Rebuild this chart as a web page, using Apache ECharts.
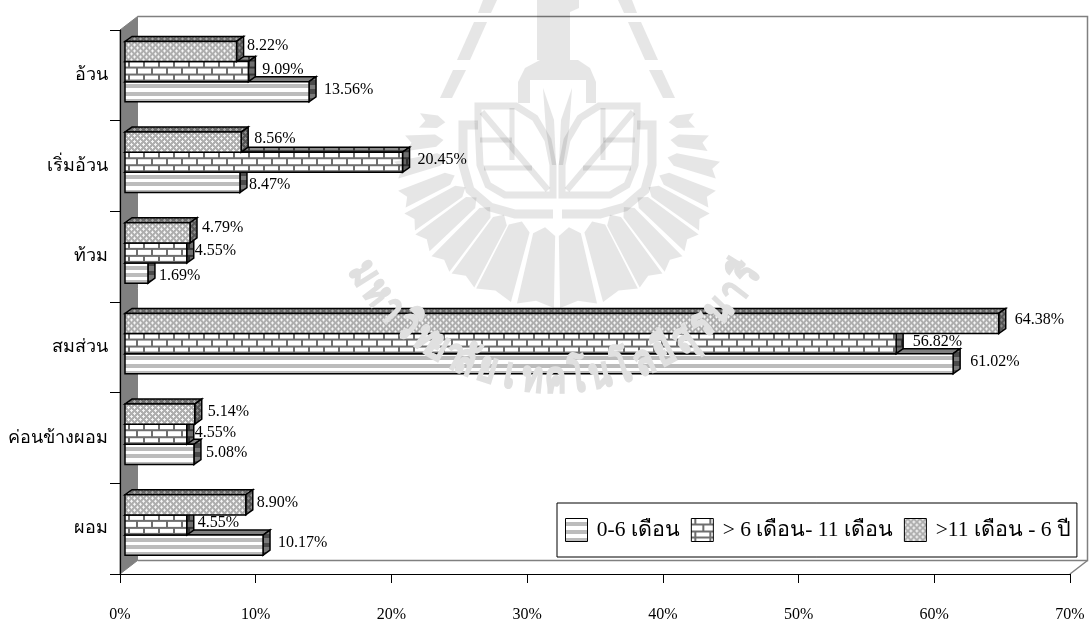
<!DOCTYPE html>
<html>
<head>
<meta charset="utf-8">
<style>html,body{margin:0;padding:0;background:#fff}#chart{width:1089px;height:622px}</style>
<script src="https://cdn.jsdelivr.net/npm/echarts@6/dist/echarts.min.js"></script>
</head>
<body>
<div id="chart"></div>
<script>
// Nutrition status by child age group
const categories = ['ผอม', 'ค่อนข้างผอม', 'สมส่วน', 'ท้วม', 'เริ่มอ้วน', 'อ้วน'];
const seriesNames = ['0-6 เดือน', '> 6 เดือน- 11 เดือน', '>11 เดือน - 6 ปี'];
const infants = [10.17, 5.08, 61.02, 1.69, 8.47, 13.56];
const olderInfants = [4.55, 4.55, 56.82, 4.55, 20.45, 9.09];
const children = [8.90, 5.14, 64.38, 4.79, 8.56, 8.22];

// Hand placement of the value labels: x gap past the bar, y shift from its centre
const labelGapX = [[8, 5, 10, 4, 2, 8], [4, 1, 9.5, 1, 8, 7], [4, 6, 9, 5, 6, 3.5]];
const labelGapY = [[-2, -1.5, -2, 3, 2.5, -2], [-2, -2, -2, -2, -3, -2], [-2, -2, -3.5, -5, -3, -5.5]];

const SERIF = '"Liberation Serif","Noto Sans","DejaVu Sans",serif';
const DEPTH_X = 17.5, DEPTH_Y = 13.5;   // full depth of the plot box
const BAR_DX = 7, BAR_DY = 5;           // depth of a bar
const BAR_INSET_X = 5, BAR_INSET_Y = 3.7;
const BAR_SHARE = 0.2222;

function tile(w, h, paint) {
  const c = document.createElement('canvas');
  c.width = w; c.height = h;
  paint(c.getContext('2d'));
  return c;
}
function brickPaint(base, line) {
  return g => {
    g.fillStyle = base; g.fillRect(0, 0, 15, 20);
    g.fillStyle = line;
    [5, 12, 18].forEach(y => g.fillRect(0, y, 15, 2));
    g.fillRect(3, 0, 2, 5); g.fillRect(11, 7, 2, 5); g.fillRect(3, 14, 2, 4);
  };
}
function crossPaint(base, dot) {
  return g => {
    g.fillStyle = base; g.fillRect(0, 0, 6, 6);
    g.fillStyle = dot;
    [[0, 0], [3, 3], [1, 0], [0, 1], [3, 2], [2, 3], [4, 3], [3, 4], [5, 0], [0, 5]].forEach(p => g.fillRect(p[0], p[1], 1, 1));
  };
}
const brickFront = tile(15, 20, brickPaint('#ffffff', '#6e6e6e'));
const brickTop = tile(15, 20, brickPaint('#8c8c8c', '#3c3c3c'));
const brickSide = tile(15, 20, brickPaint('#6e6e6e', '#333333'));
const crossFront = tile(6, 6, crossPaint('#aeaeae', '#f6f6f6'));
const crossTop = tile(6, 6, crossPaint('#6a6a6a', '#a8a8a8'));
const crossSide = tile(6, 6, crossPaint('#555555', '#8c8c8c'));

const stripes = (a, b) => new echarts.graphic.LinearGradient(0, 0, 0, 1, [
  { offset: 0, color: a }, { offset: 0.16, color: a }, { offset: 0.16, color: b }, { offset: 0.34, color: b },
  { offset: 0.34, color: a }, { offset: 0.5, color: a }, { offset: 0.5, color: b }, { offset: 0.68, color: b },
  { offset: 0.68, color: a }, { offset: 0.84, color: a }, { offset: 0.84, color: b }, { offset: 1, color: b }
]);
const pat = (image, x, y) => ({ image, repeat: 'repeat', x: x || 0, y: y || 0 });

const faces = [
  (x, y) => ({ front: stripes('#ffffff', '#bcbcbc'), top: '#808080', side: stripes('#7a7a7a', '#4a4a4a') }),
  (x, y) => ({ front: pat(brickFront, x, y), top: pat(brickTop, x, y), side: pat(brickSide, x, y) }),
  (x, y) => ({ front: pat(crossFront, x, y), top: pat(crossTop, x, y), side: pat(crossSide, x, y) })
];

function renderBar(s) {
  return (params, api) => {
    const k = api.value(0), v = api.value(1);
    const c0 = api.coord([0, k]);
    const c1 = api.coord([v, k]);
    const h = api.size([0, 1])[1] * BAR_SHARE;
    const cy = c0[1] - BAR_INSET_Y + (1 - s) * h;
    const xa = c0[0] + BAR_INSET_X, xb = c1[0] + BAR_INSET_X;
    const ya = cy - h / 2, yb = cy + h / 2;
    const f = faces[s](xa, ya);
    const edge = { stroke: '#000', lineWidth: 1.5 };
    return {
      type: 'group',
      children: [
        { type: 'polygon', shape: { points: [[xa, ya], [xb, ya], [xb + BAR_DX, ya - BAR_DY], [xa + BAR_DX, ya - BAR_DY]] }, style: { fill: f.top, ...edge } },
        { type: 'polygon', shape: { points: [[xb, ya], [xb + BAR_DX, ya - BAR_DY], [xb + BAR_DX, yb - BAR_DY], [xb, yb]] }, style: { fill: f.side, ...edge } },
        { type: 'rect', shape: { x: xa, y: ya, width: xb - xa, height: yb - ya }, style: { fill: f.front, ...edge } },
        { type: 'text', x: xb + BAR_DX + labelGapX[s][params.dataIndex], y: cy + labelGapY[s][params.dataIndex],
          style: { text: v.toFixed(2) + '%', fill: '#000', font: '16px ' + SERIF, align: 'left', verticalAlign: 'middle' } }
      ]
    };
  };
}

// Side wall and back frame of the 3-D plot box, placed from the axes
function renderBox(params, api) {
  const band = api.size([0, 1])[1];
  const first = api.coord([0, 0]);
  const last = api.coord([0, categories.length - 1]);
  const right = api.coord([70, 0]);
  const bl = [first[0], first[1] + band / 2];
  const tl = [last[0], last[1] - band / 2];
  const br = [right[0], first[1] + band / 2];
  const back = p => [p[0] + DEPTH_X, p[1] - DEPTH_Y];
  const line = { stroke: '#808080', lineWidth: 1.5, fill: 'none' };
  return {
    type: 'group',
    children: [
      { type: 'polygon', shape: { points: [bl, tl, back(tl), back(bl)] }, style: { fill: '#808080', stroke: '#808080', lineWidth: 1 } },
      { type: 'polyline', shape: { points: [back(tl), [back(br)[0], back(tl)[1]], back(br), back(bl)] }, style: line },
      { type: 'polyline', shape: { points: [br, back(br)] }, style: line }
    ]
  };
}

// University seal printed faintly across the page
function sealElements() {
  const ink = '#e6e6e6';
  const style = { fill: ink, blend: 'multiply' };
  const stroke = w => ({ fill: 'none', stroke: ink, lineWidth: w, blend: 'multiply' });
  const MX = 1115;
  const mirror = pts => pts.map(p => [MX - p[0], p[1]]);
  const out = [];
  const poly = pts => out.push({ type: 'polygon', shape: { points: pts }, style, silent: true, z: 50 });
  const both = pts => { poly(pts); poly(mirror(pts)); };
  const line = (pts, w) => {
    [pts, mirror(pts)].forEach(p => out.push({ type: 'polyline', shape: { points: p }, style: stroke(w), silent: true, z: 50 }));
  };

  // tower and its base
  poly([[537, 0], [579, 0], [579, 8], [570, 12], [570, 60], [537, 60]]);
  poly([[518, 103], [518, 82], [525, 68], [540, 60], [578, 60], [590, 68], [596, 82], [596, 103], [586, 103], [586, 80], [530, 80], [530, 103]]);

  // rails leaning towards the tower
  both([[483, 0], [497, 0], [491, 13], [478, 13]]);
  both([[474, 22], [487, 22], [470, 60], [457, 60]]);
  both([[453, 70], [466, 70], [452, 98], [440, 98]]);

  // central blades
  both([[543, 88], [554, 120], [556, 165], [552, 165], [546, 130]]);

  // leaves with their veins
  line([[478, 122], [478, 106], [516, 106], [535, 118], [548, 140], [553, 165], [553, 195], [505, 195], [488, 185], [480, 165], [478, 122]], 7);
  line([[482, 112], [548, 190]], 6);
  line([[480, 140], [512, 140]], 5);
  line([[484, 168], [532, 168]], 5);
  line([[512, 108], [512, 160]], 5);
  line([[478, 125], [463, 125], [463, 165], [470, 190], [490, 207], [515, 214], [553, 214]], 9);

  // fan of rays: [angle from straight down, half width, inner radius, outer radius]
  const C = [557, 130];
  const at = (r, deg) => [C[0] + r * Math.sin(deg * Math.PI / 180), C[1] + r * Math.cos(deg * Math.PI / 180)];
  const rays = [
    [7, 6, 106, 178], [21, 6, 106, 178], [32, 4.3, 108, 178], [41, 3.8, 110, 178], [50, 3.6, 113, 176],
    [58, 3.3, 116, 174], [66, 3.1, 120, 170], [76, 3, 122, 166], [85, 2.9, 122, 152], [94, 3, 120, 138]
  ];
  rays.forEach(([a, w, r1, r2]) => {
    [1, -1].forEach(sgn => {
      poly([at(r1, sgn * (a - w)), at(r1 - 8, sgn * a), at(r1, sgn * (a + w)), at(r2, sgn * (a + w)), at(r2 - 6, sgn * a), at(r2, sgn * (a - w))]);
    });
  });

  // curved name under the fan
  const clusters = ['ม', 'ห', 'า', 'วิ', 'ท', 'ยา', 'ลั', 'ย', 'เ', 'ท', 'ค', 'โ', 'น', 'โ', 'ล', 'ยี', 'สุ', 'ร', 'น', 'า', 'รี'];
  const span = 58, R = 226, Cy = 154;
  clusters.forEach((t, i) => {
    const a = -span + 2 * span * i / (clusters.length - 1);
    const rad = a * Math.PI / 180;
    out.push({
      type: 'text', x: 555 + R * Math.sin(rad), y: Cy + R * Math.cos(rad), rotation: rad, scaleX: 0.75, silent: true, z: 50,
      style: { text: t, fill: '#e0e0e0', stroke: '#e0e0e0', lineWidth: 2, blend: 'multiply', font: 'bold 42px "Noto Sans","DejaVu Sans",sans-serif', align: 'center', verticalAlign: 'middle' }
    });
  });
  return out;
}

const rows = [infants, olderInfants, children];
const chart = echarts.init(document.getElementById('chart'), null, { renderer: 'canvas' });
chart.setOption({
  animation: false,
  backgroundColor: '#fff',
  grid: { left: 120, right: 19, top: 30, bottom: 48, outerBoundsMode: 'none' },
  xAxis: {
    type: 'value', min: 0, max: 70, interval: 10, z: 5,
    axisLine: { show: true, lineStyle: { color: '#000', width: 1.2 } },
    axisTick: { show: true, length: 9, lineStyle: { color: '#000', width: 1 } },
    splitLine: { show: false },
    axisLabel: { formatter: '{value}%', margin: 33, color: '#000', fontSize: 16, fontFamily: SERIF }
  },
  yAxis: {
    type: 'category', data: categories, z: 5,
    axisLine: { show: true, lineStyle: { color: '#000', width: 1.2 } },
    axisTick: { show: true, length: 10, alignWithLabel: false, lineStyle: { color: '#000', width: 1 } },
    axisLabel: { margin: 12, color: '#000', fontSize: 18, fontFamily: SERIF }
  },
  legend: {
    data: seriesNames, left: 557, top: 503, padding: [15, 6, 15, 8], itemGap: 11,
    itemWidth: 22, itemHeight: 23, icon: 'rect', z: 20,
    backgroundColor: '#fff', borderColor: '#000', borderWidth: 1,
    itemStyle: { borderColor: '#000', borderWidth: 1 },
    formatter: name => '\u2009' + name,
    textStyle: { color: '#000', fontSize: 21.5, fontFamily: SERIF }
  },
  graphic: { elements: sealElements() },
  series: [
    { type: 'custom', name: 'box', z: 1, silent: true, data: [[0, 0]], encode: { x: 0, y: 1 }, renderItem: renderBox, clip: false },
    ...seriesNames.map((name, s) => ({
      type: 'custom', name, z: 2 + s, clip: false,
      itemStyle: { color: faces[s](0, 0).front, borderColor: '#000' },
      data: rows[s].map((v, i) => [categories[i], v]),
      encode: { y: 0, x: 1 },
      renderItem: renderBar(s)
    }))
  ]
});
</script>
</body>
</html>
